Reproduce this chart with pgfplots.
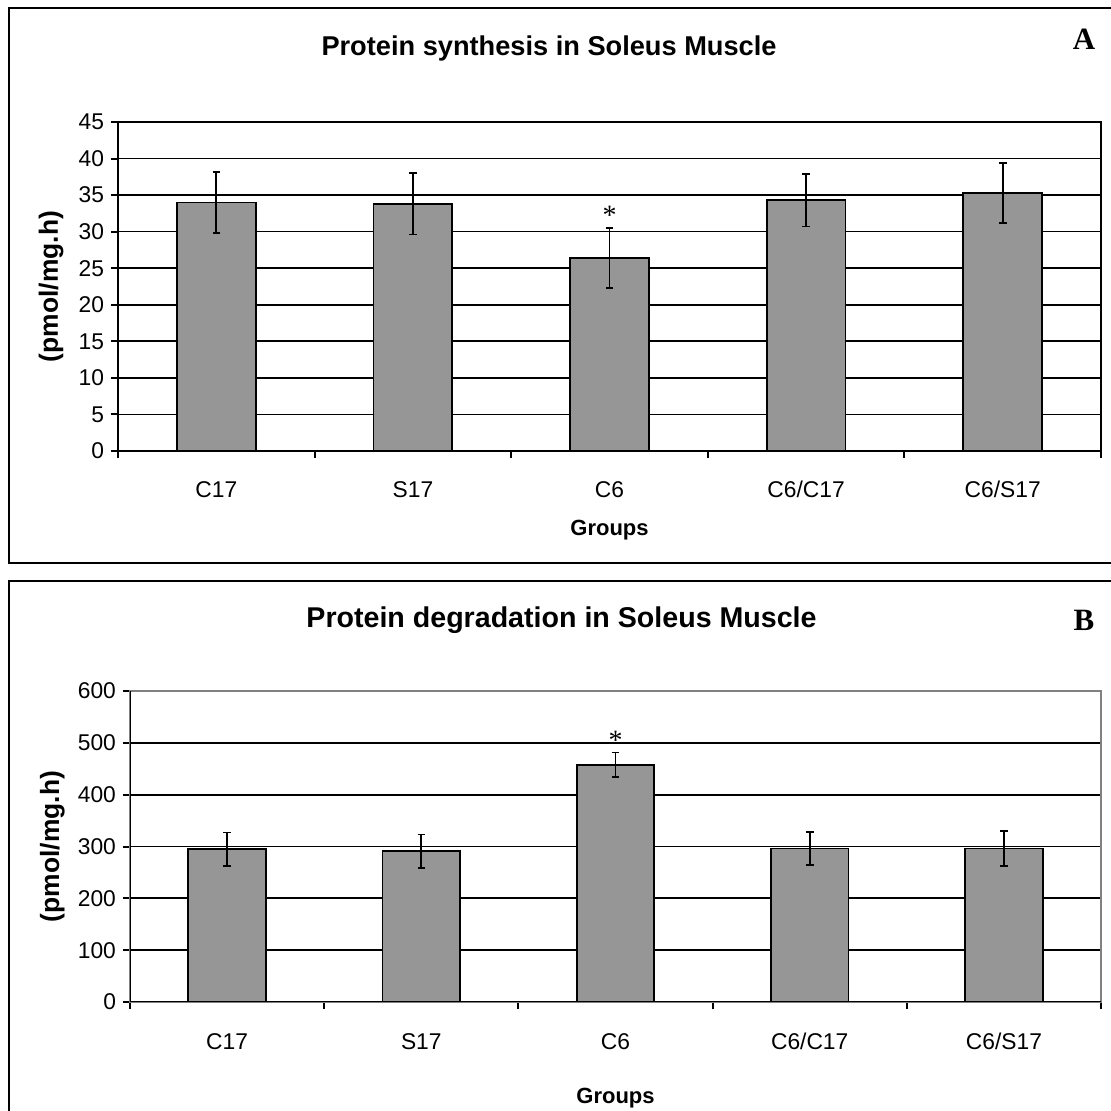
\documentclass[border=0pt]{standalone}
\usepackage{fontspec}
\setmainfont{Liberation Sans}
\newfontfamily\timesf{Liberation Serif}
\usepackage{pgfplots}
\pgfplotsset{compat=1.18}
\definecolor{barg}{RGB}{150,150,150}
\definecolor{boxg}{RGB}{128,128,128}

\pgfplotsset{
 mybar/.style={
  scale only axis,
  ybar,
  bar width=0.4,
  xmin=-0.5, xmax=4.5,
  xtick={0,1,2,3,4},
  xticklabels={C17,S17,C6,C6/C17,C6/S17},
  minor xtick={-0.5,0.5,1.5,2.5,3.5,4.5},
  major x tick style={draw=none},
  minor x tick style={black, line width=1pt},
  minor tick length=3.5pt,
  major tick length=3.5pt,
  tick align=outside,
  xtick pos=bottom, ytick pos=left,
  ymajorgrids,
  grid style={black, line width=0.85pt},
  y tick style={black, line width=1pt},
  tick label style={font=\fontsize{11.4}{13}\selectfont},
  /pgf/number format/assume math mode=true,
  axis line style={line width=1.1pt},
  xlabel={Groups},
  ylabel={(pmol/mg.h)},
  xlabel style={font=\fontsize{11}{13}\selectfont\bfseries, anchor=center},
  ylabel style={font=\fontsize{13.2}{15}\selectfont\bfseries, anchor=center},
 },
 mybars/.style={fill=barg, draw=black, line width=0.9pt,
  error bars/.cd, y dir=both, y explicit,
  error bar style={line width=0.9pt, black},
  error mark options={line width=0.9pt, black, mark size=1.9pt, rotate=90}},
}

\begin{document}
\begin{tikzpicture}
\path[use as bounding box] (0,0) rectangle (555pt,555.5pt);
% panel frames
\draw[line width=1pt] (4.5pt,273.9pt) rectangle (556pt,551.5pt);
\draw[line width=1pt] (4.5pt,-2pt) rectangle (556pt,265pt);

% Panel A
\begin{axis}[mybar, at={(59pt,330pt)}, anchor=south west,
  width=491.5pt, height=164.5pt,
  ymin=0, ymax=45, ytick={0,5,...,45},
  xlabel style={at={(axis description cs:0.5,-0.24)}},
  ylabel style={at={(axis description cs:-0.068,0.5)}},
  xticklabel style={anchor=base, yshift=-20pt},
  ]
\addplot[mybars] coordinates {
 (0,34.0) +- (0,4.2)
 (1,33.8) +- (0,4.2)
 (2,26.4) +- (0,4.1)
 (3,34.3) +- (0,3.6)
 (4,35.3) +- (0,4.1)
};
\node[font=\timesf\fontsize{14}{14}\selectfont] at (axis cs:2,32.3) {*};
\end{axis}
\node[font=\fontsize{13.6}{16}\selectfont\bfseries, anchor=base] at (274.5pt,527.5pt) {Protein synthesis in Soleus Muscle};
\node[font=\timesf\fontsize{15.5}{16}\selectfont\bfseries, anchor=base] at (542pt,530.5pt) {A};

% Panel B
\begin{axis}[mybar, at={(65pt,54.5pt)}, anchor=south west,
  width=485.5pt, height=155.5pt,
  ymin=0, ymax=600, ytick={0,100,...,600},
  axis line style={boxg, line width=0.8pt},
  xlabel style={at={(axis description cs:0.5,-0.31)}},
  ylabel style={at={(axis description cs:-0.08,0.5)}},
  xticklabel style={anchor=base, yshift=-20pt},
  ]
\addplot[mybars] coordinates {
 (0,295) +- (0,32)
 (1,291) +- (0,32)
 (2,458) +- (0,23.5)
 (3,296) +- (0,32)
 (4,296) +- (0,34)
};
\node[font=\timesf\fontsize{14}{14}\selectfont] at (axis cs:2,504) {*};
\draw[black, line width=1.1pt] (rel axis cs:0,1) -- (rel axis cs:0,0) -- (rel axis cs:1,0);
\end{axis}
\node[font=\fontsize{14.3}{16}\selectfont\bfseries, anchor=base] at (280.75pt,241.5pt) {Protein degradation in Soleus Muscle};
\node[font=\timesf\fontsize{15.5}{16}\selectfont\bfseries, anchor=base] at (542pt,240pt) {B};
\end{tikzpicture}
\end{document}
